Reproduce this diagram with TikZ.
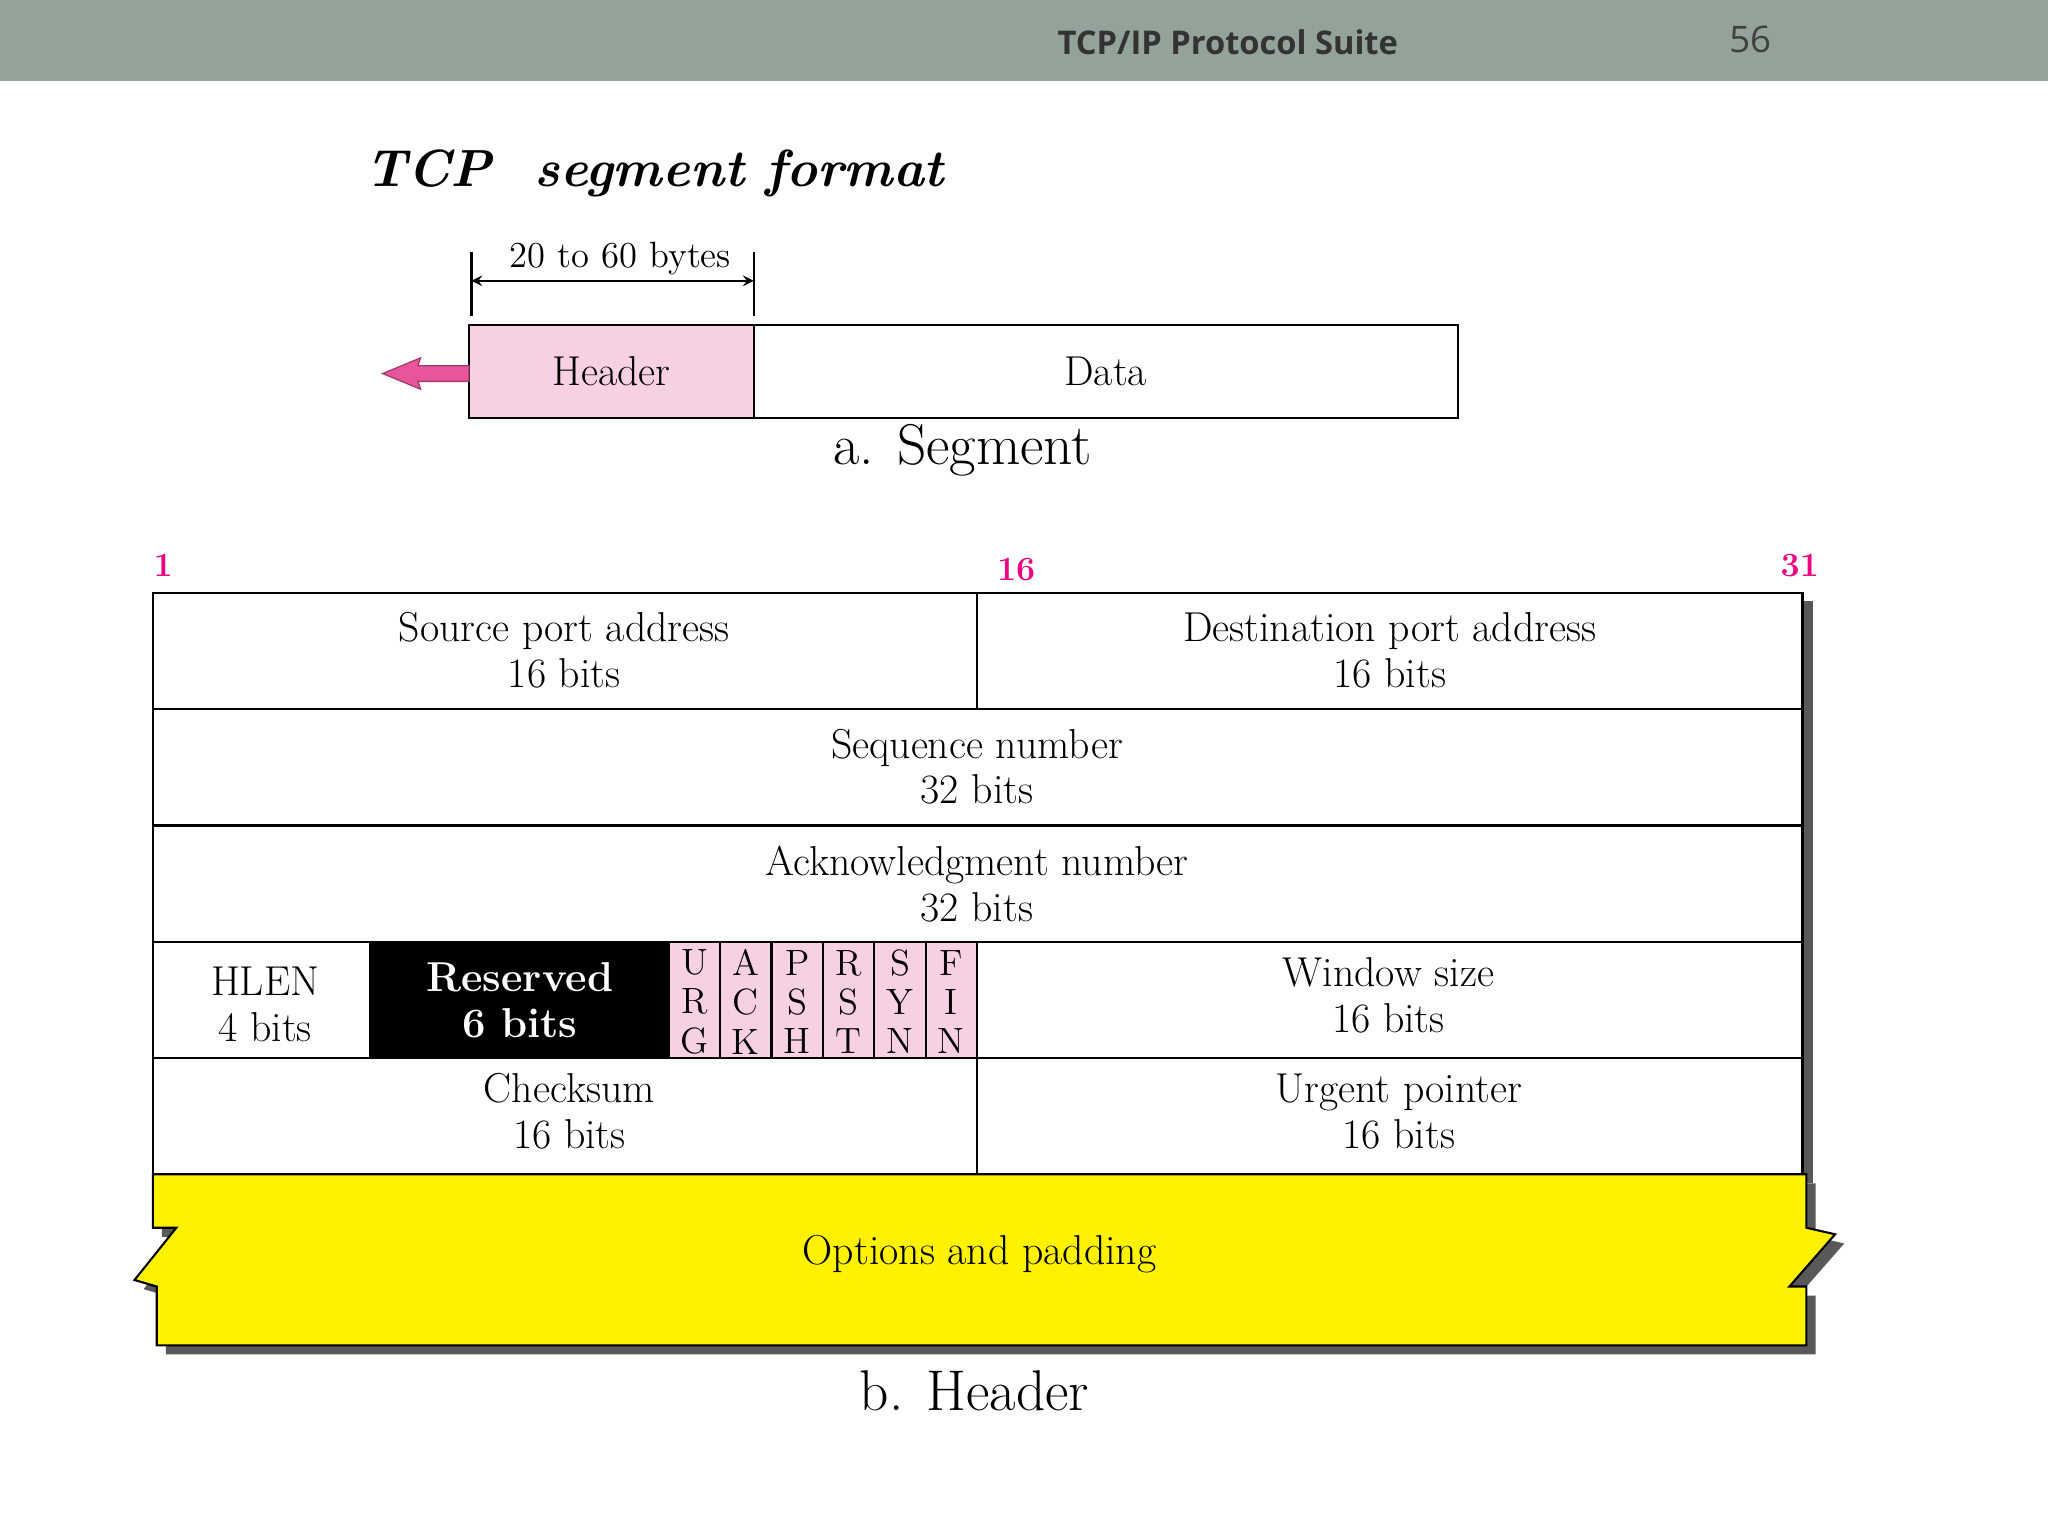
\documentclass[tikz,border=0pt]{standalone}
\usepackage{fontspec}
\newfontfamily\barfont{Open Sans}
\begin{document}
\begin{tikzpicture}[x=0.5pt,y=-0.5pt,
  cell/.style={draw=black,line width=0.8pt},
  txt/.style={font=\fontsize{16}{17.5}\selectfont,align=center},
  flag/.style={font=\fontsize{14}{15}\selectfont,align=center},
  num/.style={font=\fontsize{13}{14}\selectfont\bfseries,text=magenta!90!red}]
\useasboundingbox (0,0) rectangle (1568,1176);
\definecolor{bar}{HTML}{93A39A}
\definecolor{pinkf}{HTML}{F7D0E3}
\definecolor{arrowpink}{HTML}{E8559A}
\fill[bar] (0,0) rectangle (1568,62);
\node[font=\barfont\bfseries\fontsize{12.5}{14}\selectfont,text=black!80] (bt) at (940,32) {TCP/IP Protocol Suite};
\node[font=\barfont\fontsize{14}{16}\selectfont,text=black!75] (pg) at (1340,30) {56};
\node[font=\fontsize{20}{22}\selectfont\bfseries\itshape,anchor=west] (title) at (273,133) {TCP\ \ segment format};
% segment
\draw[line width=0.8pt] (361,193) -- (361,242) (577,193) -- (577,242);
\coordinate (dl) at (361,215); \coordinate (dr) at (577,215);
\draw[line width=0.8pt,<->,>=stealth] (dl) -- (dr);
\node[font=\fontsize{14}{15}\selectfont] (dim) at (475,198) {20 to 60 bytes};
\node[cell,fill=pinkf,minimum width=109pt,minimum height=35.5pt,inner sep=0,font=\fontsize{16}{17}\selectfont] (hdr) at (468,284.5) {Header};
\node[cell,minimum width=269.5pt,minimum height=35.5pt,inner sep=0,font=\fontsize{16}{17}\selectfont] (data) at (846.5,284.5) {Data};
\fill[arrowpink,draw=arrowpink!70!black,line width=0.5pt] (359,280) -- (320,280) -- (322,274) -- (293,286) -- (322,298) -- (320,292) -- (359,292) -- cycle;
\node[font=\fontsize{22}{24}\selectfont] (asg) at (737,345) {a. Segment};
% numbers
\node[num] (n1) at (125,433) {1};
\node[num] (n16) at (778,436) {16};
\node[num] (n31) at (1378,433) {31};
% shadow right
\fill[black!65] (1380,460) rectangle (1388,906);
% table
\draw[cell] (117,454) rectangle (1380,899);
\foreach \y in {543,632,721,810} \draw[cell] (117,\y) -- (1380,\y);
\draw[cell] (748,454) -- (748,543);
\draw[cell] (748,721) -- (748,899);
\fill[black] (283,721) rectangle (512,810);
\draw[cell] (283,721) -- (283,810);
\fill[pinkf] (512,721) rectangle (748,810);
\foreach \i in {0,...,6} \draw[cell] ({512+\i*39.33},721) -- ({512+\i*39.33},810);
\draw[cell] (512,721) -- (748,721) (512,810) -- (748,810);
\node[txt] (sp) at (432,498) {Source port address\\16 bits};
\node[txt] (dp) at (1064,498) {Destination port address\\16 bits};
\node[txt] (sq) at (748,587) {Sequence number\\32 bits};
\node[txt] (ak) at (748,677) {Acknowledgment number\\32 bits};
\node[txt] (hl) at (203,769) {HLEN\\4 bits};
\node[txt,text=white,font=\fontsize{16}{17.5}\selectfont\bfseries] (rs) at (398,766) {Reserved\\6 bits};
\foreach \l [count=\i from 0] in {U\\R\\G,A\\C\\K,P\\S\\H,R\\S\\T,S\\Y\\N,F\\I\\N}
  \node[flag] (f\i) at ({531.7+\i*39.33},767) {\l};
\node[txt] (ws) at (1063,762) {Window size\\16 bits};
\node[txt] (ck) at (436,851) {Checksum\\16 bits};
\node[txt] (up) at (1071,851) {Urgent pointer\\16 bits};
% options
\fill[black!65,shift={(7,7)}] (117,899) -- (1383,899) -- (1383,940) -- (1405,945) -- (1370,985) -- (1383,985) -- (1383,1030) -- (120,1030) -- (120,985) -- (103,980) -- (135,940) -- (117,940) -- cycle;
\filldraw[fill=yellow,draw=black,line width=0.8pt] (117,899) -- (1383,899) -- (1383,940) -- (1405,945) -- (1370,985) -- (1383,985) -- (1383,1030) -- (120,1030) -- (120,985) -- (103,980) -- (135,940) -- (117,940) -- cycle;
\node[txt] (op) at (750,960) {Options and padding};
\node[font=\fontsize{22}{24}\selectfont] (bh) at (746,1065) {b. Header};
\end{tikzpicture}
\end{document}
